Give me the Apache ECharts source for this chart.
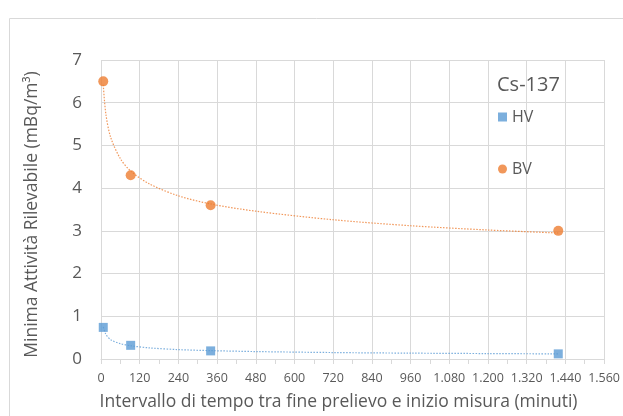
<!DOCTYPE html>
<html>
<head>
<meta charset="utf-8">
<script src="https://cdn.jsdelivr.net/npm/echarts@6/dist/echarts.min.js"></script>
<style>html,body{margin:0;padding:0;background:#fff}#c{width:623px;height:416px}</style>
</head>
<body>
<div id="c"></div>
<script>
// Measured points (minutes, mBq/m3)
const timesMin = [7, 92, 340, 1418];
const hvValues = [0.74, 0.32, 0.19, 0.12];
const bvValues = [6.5, 4.3, 3.6, 3.0];
// Dotted trend curves
const trendX = [7, 15, 30, 60, 92, 150, 240, 340, 480, 720, 960, 1200, 1418];
const hvTrend = [0.75, 0.58, 0.45, 0.36, 0.31, 0.26, 0.22, 0.196, 0.174, 0.151, 0.137, 0.127, 0.12];
const bvTrend = [6.42, 5.74, 5.19, 4.69, 4.40, 4.10, 3.82, 3.63, 3.46, 3.26, 3.12, 3.02, 2.95];
const xTicks = [0, 120, 240, 360, 480, 600, 720, 840, 960, 1080, 1200, 1320, 1440, 1560];
const yTicks = [0, 1, 2, 3, 4, 5, 6, 7];

const FONT = 'Open Sans';
const TXT = '#595959';
const BLUE = '#5B9BD5';
const ORANGE = '#ED7D31';
const pair = (xs, ys) => xs.map((x, i) => [x, ys[i]]);
const fmtIt = v => String(v).replace(/\B(?=(\d{3})+(?!\d))/g, '.');

const chart = echarts.init(document.getElementById('c'), null, {renderer: 'canvas'});
chart.setOption({
  animation: false,
  textStyle: {fontFamily: FONT, color: TXT},
  graphic: [{
    type: 'rect', left: 7, top: 16, silent: true,
    shape: {width: 640, height: 420},
    style: {fill: 'none', stroke: '#D9D9D9', lineWidth: 1}
  }],
  title: {
    text: 'Cs-137', left: 492, top: 70,
    textStyle: {fontFamily: FONT, fontSize: 20, fontWeight: 'normal', color: TXT}
  },
  legend: {
    data: [{name: 'HV', icon: 'rect'}, {name: 'BV', icon: 'circle'}],
    orient: 'vertical', left: 493, top: 101,
    itemWidth: 9, itemHeight: 9, itemGap: 30,
    textStyle: {fontFamily: FONT, fontSize: 16, color: TXT, lineHeight: 22}
  },
  grid: {left: 101, right: 16, top: 60, bottom: 54, containLabel: false},
  xAxis: {
    type: 'value', min: xTicks[0], max: xTicks[xTicks.length - 1], interval: 120,
    name: 'Intervallo di tempo tra fine prelievo e inizio misura (minuti)',
    nameLocation: 'middle', nameGap: 34,
    nameTextStyle: {fontFamily: FONT, fontSize: 17.5, color: TXT, padding: [0, 28, 0, 0]},
    axisLine: {show: true, lineStyle: {color: '#D9D9D9', width: 1}},
    axisTick: {show: true, inside: false, length: 5, lineStyle: {color: '#D9D9D9'}},
    minorTick: {show: true, splitNumber: 2, length: 5, lineStyle: {color: '#D9D9D9'}},
    axisLabel: {fontFamily: FONT, fontSize: 12.5, color: TXT, margin: 13, formatter: fmtIt},
    splitLine: {show: true, lineStyle: {color: '#D9D9D9', width: 1}}
  },
  yAxis: {
    type: 'value', min: yTicks[0], max: yTicks[yTicks.length - 1], interval: 1,
    name: 'Minima Attività Rilevabile (mBq/m³)',
    nameLocation: 'middle', nameGap: 60,
    nameTextStyle: {fontFamily: FONT, fontSize: 17.5, color: TXT, padding: [0, 10, 0, 0]},
    axisLine: {show: false},
    axisTick: {show: false},
    axisLabel: {fontFamily: FONT, fontSize: 17, color: TXT, margin: 19},
    splitLine: {show: true, lineStyle: {color: '#D9D9D9', width: 1}}
  },
  series: [
    {
      name: 'HV trend', type: 'line', data: pair(trendX, hvTrend), smooth: 0.3,
      showSymbol: false, silent: true, z: 1,
      lineStyle: {color: BLUE, width: 1.2, type: [1.5, 1.5], opacity: 0.8}
    },
    {
      name: 'BV trend', type: 'line', data: pair(trendX, bvTrend), smooth: 0.3,
      showSymbol: false, silent: true, z: 1,
      lineStyle: {color: ORANGE, width: 1.2, type: [1.5, 1.5], opacity: 0.8}
    },
    {
      name: 'HV', type: 'scatter', data: pair(timesMin, hvValues),
      symbol: 'rect', symbolSize: 9, z: 3,
      itemStyle: {color: BLUE}
    },
    {
      name: 'BV', type: 'scatter', data: pair(timesMin, bvValues),
      symbol: 'circle', symbolSize: 10, z: 3,
      itemStyle: {color: ORANGE}
    }
  ]
});
</script>
</body>
</html>
